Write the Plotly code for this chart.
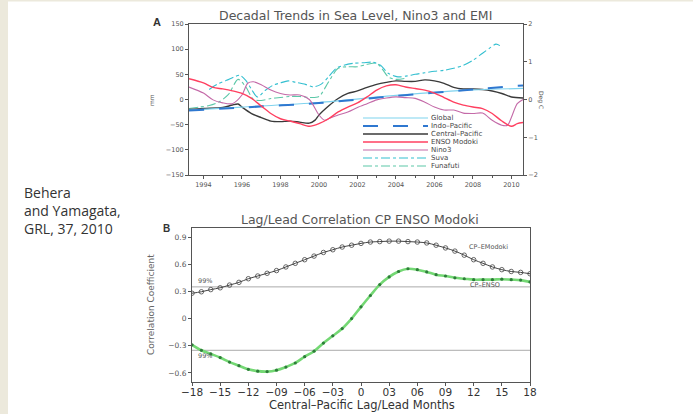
import plotly.graph_objects as go

W, H = 693, 414

# ---------------- Panel A data ----------------
trend_years = [1993.25, 1996, 2000, 2004, 2008, 2010.6]
global_mm = [-21, -15, -6, 8, 19, 22]
indo_pacific_mm = [-22, -16, -7, 7, 20, 28]

cp_years = [1993.25, 1994, 1995, 1995.5, 1995.8, 1996, 1996.5, 1997, 1997.5, 1998, 1998.5,
            1999, 1999.5, 1999.8, 2000, 2000.5, 2001, 2001.5, 2002, 2002.5, 2003, 2003.5,
            2004, 2004.5, 2005, 2005.5, 2006, 2006.5, 2007, 2007.5, 2008, 2008.5, 2009,
            2009.5, 2010, 2010.6]
central_pacific_mm = [-20, -18, -16, -11, -9, -15, -28, -36, -43, -44, -43, -45, -47, -41,
                      -31, -13, 2, 12, 17, 24, 30, 34, 37, 36, 36, 39, 37, 32, 24, 21, 21,
                      20, 17, 12, 5, 3]

modoki_years = [1993.25, 1994, 1994.5, 1995, 1995.5, 1996, 1996.5, 1997, 1997.5, 1998, 1998.5,
                1999, 1999.5, 2000, 2000.5, 2001, 2001.5, 2002, 2002.5, 2003, 2003.5, 2004,
                2004.5, 2005, 2005.5, 2006, 2006.5, 2007, 2007.5, 2008, 2008.5, 2009, 2009.5,
                2010, 2010.3, 2010.6]
enso_modoki_degc = [0.55, 0.44, 0.32, 0.28, 0.23, 0.16, 0.03, -0.17, -0.37, -0.51, -0.57,
                    -0.64, -0.71, -0.64, -0.51, -0.33, -0.20, -0.09, 0.07, 0.25, 0.36, 0.39,
                    0.33, 0.29, 0.25, 0.17, 0.05, -0.07, -0.15, -0.20, -0.24, -0.37, -0.57,
                    -0.71, -0.64, -0.61]

nino3_years = [1993.25, 1994, 1994.5, 1995, 1995.5, 1996, 1996.3, 1996.6, 1997, 1997.5, 1998,
               1998.5, 1999, 1999.5, 2000, 2000.3, 2000.5, 2001, 2001.5, 2002, 2002.5, 2003,
               2003.5, 2004, 2004.5, 2005, 2005.5, 2006, 2006.5, 2007, 2007.5, 2008, 2008.5,
               2009, 2009.5, 2009.8, 2010, 2010.3, 2010.6]
nino3_degc = [0.33, 0.17, -0.01, -0.09, -0.11, 0.12, 0.43, 0.47, 0.39, 0.25, 0.16, 0.12, 0.12,
              0.0, -0.41, -0.55, -0.51, -0.41, -0.33, -0.21, -0.11, -0.01, 0.04, 0.07, 0.05,
              0.03, -0.07, -0.20, -0.28, -0.28, -0.36, -0.37, -0.36, -0.55, -0.68, -0.68,
              -0.47, -0.11, 0.0]

suva_years = [1994.3, 1994.7, 1995.2, 1995.6, 1995.9, 1996.2, 1996.5, 1996.8, 1997.2, 1997.6,
              1998, 1998.4, 1998.8, 1999.3, 1999.7, 2000.1, 2000.5, 2000.9, 2001.3, 2001.8,
              2002.3, 2002.8, 2003.2, 2003.6, 2004.1, 2004.6, 2005, 2005.5, 2006, 2006.5,
              2007, 2007.5, 2008, 2008.5, 2008.9, 2009.2, 2009.4]
suva_mm = [20, 30, 38, 45, 48, 38, 20, 5, 18, 28, 33, 37, 34, 30, 25, 30, 45, 62, 68, 72, 73,
           74, 68, 52, 45, 47, 50, 53, 56, 58, 62, 68, 78, 92, 103, 110, 107]

funafuti_years = [1993.25, 1993.8, 1994.3, 1994.8, 1995.3, 1995.8, 1996.2, 1996.6, 1997,
                  1997.5, 1998, 1998.5, 1999, 1999.5, 2000, 2000.5, 2001, 2001.5, 2002,
                  2002.5, 2003, 2003.3, 2003.6, 2004, 2004.5]
funafuti_mm = [-18, -15, -12, -5, 10, 40, 25, 0, -2, 2, 4, 6, 6, 4, 6, 35, 62, 65, 65, 70, 72,
               60, 45, 40, 42]

year_ticks = [1994, 1996, 1998, 2000, 2002, 2004, 2006, 2008, 2010]
mm_ticks = [-150, -100, -50, 0, 50, 100, 150]
degc_ticks = [-2, -1, 0, 1, 2]
degc_labels = ["\u22122", "\u22121", "0", "1", "2"]

legend_names = ["Global", "Indo\u2013Pacific", "Central\u2013Pacific", "ENSO Modoki",
                "Nino3", "Suva", "Funafuti"]

# ---------------- Panel B data ----------------
lag_months = list(range(-18, 19))
cp_emodoki = [0.28, 0.296, 0.32, 0.34, 0.37, 0.40, 0.44, 0.47, 0.50, 0.53, 0.57, 0.61, 0.65,
              0.69, 0.73, 0.76, 0.79, 0.81, 0.83, 0.845, 0.85, 0.855, 0.855, 0.85, 0.845,
              0.835, 0.81, 0.78, 0.745, 0.70, 0.65, 0.61, 0.57, 0.54, 0.52, 0.51, 0.495]
cp_enso = [-0.29, -0.35, -0.39, -0.43, -0.48, -0.52, -0.56, -0.58, -0.585, -0.57, -0.535,
           -0.49, -0.42, -0.36, -0.27, -0.19, -0.11, 0.0, 0.13, 0.255, 0.375, 0.46, 0.52,
           0.55, 0.54, 0.515, 0.485, 0.47, 0.45, 0.44, 0.43, 0.43, 0.43, 0.435, 0.43, 0.425,
           0.405]
sig_99 = 0.35
lag_ticks = [-18, -15, -12, -9, -6, -3, 0, 3, 6, 9, 12, 15, 18]
lag_labels = ["\u221218", "\u221215", "\u221212", "\u221209", "\u221206", "\u221203", "0",
              "03", "06", "09", "12", "15", "18"]
corr_ticks = [-0.6, -0.3, 0, 0.3, 0.6, 0.9]
corr_labels = ["\u22120.6", "\u22120.3", "0", "0.3", "0.6", "0.9"]


def px(x):
    return x / W


def py(y):
    return 1 - y / H


FONT = "DejaVu Sans"
AX = "#555555"

styles = [
    dict(color="#7FD3EE", width=1.2, dash="solid"),
    dict(color="#2F78D0", width=2, dash="longdash"),
    dict(color="#3A3A3A", width=1.4, dash="solid"),
    dict(color="#FF4060", width=1.4, dash="solid"),
    dict(color="#C46AA8", width=1.1, dash="solid"),
    dict(color="#33BFD0", width=1.1, dash="dashdot"),
    dict(color="#5CC8A8", width=1.1, dash="dashdot"),
]

fig = go.Figure()

series_a = [
    (trend_years, global_mm, "y"),
    (trend_years, indo_pacific_mm, "y"),
    (cp_years, central_pacific_mm, "y"),
    (modoki_years, enso_modoki_degc, "y3"),
    (nino3_years, nino3_degc, "y3"),
    (suva_years, suva_mm, "y"),
    (funafuti_years, funafuti_mm, "y"),
]
order = [6, 5, 4, 3, 2, 0, 1]
for i in order:
    xs, ys, yax = series_a[i]
    fig.add_trace(go.Scatter(x=xs, y=ys, mode="lines", xaxis="x", yaxis=yax,
                             line=dict(shape="spline", smoothing=0.8, **styles[i]),
                             name=legend_names[i], showlegend=False))

# Panel B
fig.add_trace(go.Scatter(x=[lag_months[0], lag_months[-1]], y=[sig_99, sig_99], mode="lines",
                         xaxis="x2", yaxis="y2", line=dict(color="#AAAAAA", width=1),
                         showlegend=False))
fig.add_trace(go.Scatter(x=[lag_months[0], lag_months[-1]], y=[-sig_99, -sig_99], mode="lines",
                         xaxis="x2", yaxis="y2", line=dict(color="#AAAAAA", width=1),
                         showlegend=False))
fig.add_trace(go.Scatter(x=lag_months, y=cp_emodoki, mode="lines+markers", xaxis="x2",
                         yaxis="y2", line=dict(color="#444444", width=1, shape="spline"),
                         marker=dict(symbol="circle-open", size=4.5, color="#444444",
                                     line=dict(width=0.8)),
                         showlegend=False))
fig.add_trace(go.Scatter(x=lag_months, y=cp_enso, mode="lines", xaxis="x2", yaxis="y2",
                         line=dict(color="#74D874", width=2.6, shape="spline"),
                         showlegend=False))
fig.add_trace(go.Scatter(x=lag_months, y=cp_enso, mode="markers", xaxis="x2", yaxis="y2",
                         marker=dict(symbol="circle", size=3.2, color="#2E7D3A"),
                         showlegend=False))

shapes = [
    dict(type="rect", xref="paper", yref="paper", x0=0, x1=px(8), y0=0, y1=1,
         fillcolor="#ECE9DC", line=dict(width=0), layer="below"),
    dict(type="rect", xref="paper", yref="paper", x0=0, x1=1, y0=py(1.5), y1=1,
         fillcolor="#ECE9DC", line=dict(width=0), layer="below"),
]
annotations = []
# manual legend for panel A
for k, name in enumerate(legend_names):
    yy = 118 + 8 * k
    st = styles[k]
    shapes.append(dict(type="line", xref="paper", yref="paper", x0=px(363), x1=px(428),
                       y0=py(yy), y1=py(yy),
                       line=dict(color=st["color"], width=st["width"], dash=st["dash"])))
    annotations.append(dict(x=px(430), y=py(yy), xref="paper", yref="paper", text=name,
                            showarrow=False, xanchor="left", yanchor="middle", borderpad=0,
                            font=dict(family=FONT, size=7, color="#444")))


def note(x, y, text, size, color="#555", family=FONT, angle=0, xanchor="center"):
    return dict(x=px(x), y=py(y), xref="paper", yref="paper", text=text, showarrow=False,
                textangle=angle, xanchor=xanchor, yanchor="middle", align="left",
                font=dict(family=family, size=size, color=color))


annotations += [
    note(355, 15, "Decadal Trends in Sea Level, Nino3 and EMI", 12.5),
    note(157, 22, "<b>A</b>", 11, "#333", "Liberation Sans"),
    note(152, 100, "mm", 6, angle=-90),
    note(541, 100, "Deg C", 6, angle=90),
    note(360, 219, "Lag/Lead Correlation CP ENSO Modoki", 12.5),
    note(166, 228, "<b>B</b>", 10, "#333", "Liberation Sans"),
    note(151, 305, "Correlation Coefficient", 9, "#666", angle=-90),
    note(362, 405, "Central\u2013Pacific Lag/Lead Months", 11.5, "#333"),
    note(22, 210, "Behera<br>and Yamagata,<br>GRL, 37, 2010", 14, "#333", "Open Sans",
         xanchor="left"),
    dict(x=-17.6, y=sig_99 + 0.07, xref="x2", yref="y2", text="99%", showarrow=False,
         xanchor="left", yanchor="middle", font=dict(family=FONT, size=6.5, color="#555")),
    dict(x=-17.6, y=-sig_99 - 0.06, xref="x2", yref="y2", text="99%", showarrow=False,
         xanchor="left", yanchor="middle", font=dict(family=FONT, size=6.5, color="#555")),
    dict(x=13.6, y=0.79, xref="x2", yref="y2", text="CP\u2013EModoki", showarrow=False,
         xanchor="center", yanchor="middle", font=dict(family=FONT, size=6.5, color="#555")),
    dict(x=13.2, y=0.37, xref="x2", yref="y2", text="CP\u2013ENSO", showarrow=False,
         xanchor="center", yanchor="middle", font=dict(family=FONT, size=6.5, color="#555")),
]

axis_common = dict(showline=True, linecolor=AX, linewidth=1, mirror=True, ticks="outside",
                   ticklen=3, tickcolor=AX, showgrid=False, zeroline=False, automargin=False)

fig.update_layout(
    width=W, height=H, margin=dict(l=0, r=0, t=0, b=0, pad=0, autoexpand=False),
    paper_bgcolor="white", plot_bgcolor="white", showlegend=False,
    shapes=shapes, annotations=annotations,
    xaxis=dict(domain=[px(189), px(523)], range=[1993.25, 2010.6], anchor="y",
               tickvals=year_ticks, tickfont=dict(family=FONT, size=6.5, color="#555"),
               minor=dict(dtick=1, ticks="outside", ticklen=2, tickcolor=AX),
               **axis_common),
    yaxis=dict(domain=[py(175), py(24)], range=[-150, 150], anchor="x",
               tickvals=mm_ticks, tickfont=dict(family=FONT, size=6.5, color="#555"),
               **axis_common),
    yaxis3=dict(overlaying="y", side="right", anchor="x", range=[-2, 2],
                tickvals=degc_ticks, ticktext=degc_labels, showline=False, ticks="outside",
                ticklen=3, tickcolor=AX, showgrid=False, zeroline=False, automargin=False,
                tickfont=dict(family=FONT, size=6.5, color="#555")),
    xaxis2=dict(domain=[px(192), px(530)], range=[-18, 18], anchor="y2",
                tickvals=lag_ticks, ticktext=lag_labels, ticklabelstandoff=-3,
                tickfont=dict(family=FONT, size=10.5, color="#333"), **axis_common),
    yaxis2=dict(domain=[py(382), py(228)], range=[-0.7, 1.0], anchor="x2",
                tickvals=corr_ticks, ticktext=corr_labels,
                tickfont=dict(family=FONT, size=7.5, color="#555"), **axis_common),
)

fig.write_html("out.html")
